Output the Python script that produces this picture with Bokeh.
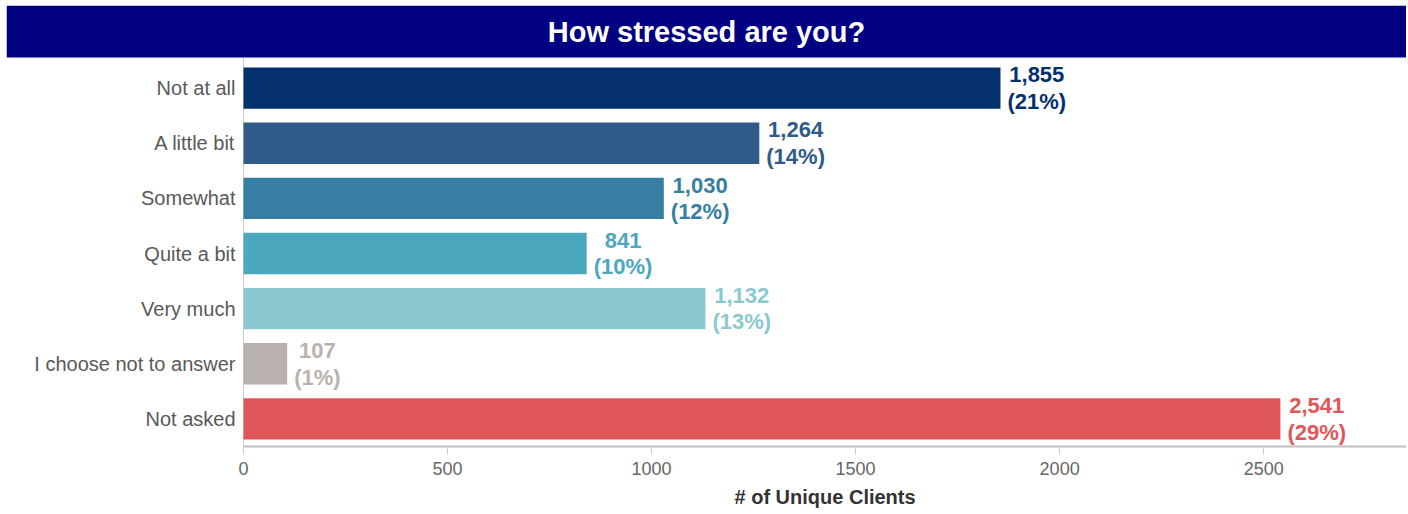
from bokeh.plotting import figure
from bokeh.models import ColumnDataSource, FixedTicker, Range1d, Span, BoxAnnotation, Title
from bokeh.core.properties import value
from bokeh.embed import file_html
from bokeh.resources import INLINE

title_text = "How stressed are you?"
categories = ["Not at all", "A little bit", "Somewhat", "Quite a bit",
              "Very much", "I choose not to answer", "Not asked"]
counts = [1855, 1264, 1030, 841, 1132, 107, 2541]
colors = ["#04306b", "#2e5b88", "#367fa3", "#4ba7bd", "#8bc8cf", "#bab2ae", "#e0575a"]
x_ticks = [0, 500, 1000, 1500, 2000, 2500]
x_max = 2850
x_label = "# of Unique Clients"

FONT = "Liberation Sans"

# ---- layout geometry (pixels) ----
W, H = 1406, 514
FRAME_L, FRAME_T = 6, 5          # title bar / frame outer edge
AXIS_X = 243                      # where value 0 sits
BARS_TOP, AXIS_Y = 60, 446        # category band top, x axis line
TITLE_BOTTOM = 57
XLABEL_LEFT = 734                 # left edge of the axis title
n = len(categories)
band = (AXIS_Y - BARS_TOP) / n
pxu = (W - AXIS_X) / x_max
x_start = -(AXIS_X - FRAME_L) / pxu
y_start = -0.5
y_end = n - 0.5 + (BARS_TOP - FRAME_T) / band
title_bottom = n - 0.5 + (BARS_TOP - TITLE_BOTTOM) / band

total = sum(counts)
pcts = [round(c * 100 / total) for c in counts]
num_labels = [f"{c:,}" for c in counts]
pct_labels = [f"({p}%)" for p in pcts]
labels = [f"{a}\n{b}" for a, b in zip(num_labels, pct_labels)]

CW = {"(": 0.333, ")": 0.333, "%": 0.889, ",": 0.278}
LABEL_PX = 22
def text_w(s):
    return sum(CW.get(ch, 0.556) for ch in s) * LABEL_PX
offsets = [7 + max(text_w(a), text_w(b)) / 2 for a, b in zip(num_labels, pct_labels)]

ypos = [n - 1 - i for i in range(n)]
src = ColumnDataSource(dict(cat=categories, y=ypos, n=counts, color=colors,
                            label=labels, off=offsets, zero=[0] * n))

p = figure(width=W, height=H, x_range=Range1d(x_start, x_max), y_range=Range1d(y_start, y_end),
           toolbar_location=None, output_backend="svg", y_axis_location=None,
           min_border_left=FRAME_L, min_border_right=0, min_border_top=FRAME_T,
           min_border_bottom=H - AXIS_Y)
p.outline_line_color = None
p.grid.visible = False
p.background_fill_color = "white"
p.border_fill_color = "white"

# y axis line and title bar
p.add_layout(Span(location=0, dimension="height", line_color="#cccccc", line_width=1,
                  level="underlay"))
p.add_layout(BoxAnnotation(bottom=title_bottom, fill_color="#000080", fill_alpha=1,
                           line_color=None, level="underlay"))
p.text(x=[x_start + (W - FRAME_L) / 2 / pxu], y=[(title_bottom + y_end) / 2], text=[title_text],
       text_align="center", text_baseline="middle", text_color="white",
       text_font=value(FONT), text_font_style="bold", text_font_size="29px")

p.hbar(y="y", right="n", left=0, height=0.75, color="color", source=src, line_color=None)
p.text(x="n", y="y", text="label", x_offset="off", source=src,
       text_align="center", text_baseline="middle", text_color="color",
       text_font=value(FONT), text_font_style="bold", text_font_size=f"{LABEL_PX}px",
       text_line_height=1.06)
# category labels
p.text(x="zero", y="y", text="cat", x_offset=-8, source=src,
       text_align="right", text_baseline="middle", text_color="#595959",
       text_font=value(FONT), text_font_size="20px")

xa = p.xaxis[0]
xa.ticker = FixedTicker(ticks=x_ticks)
xa.bounds = (0, x_max)
xa.axis_line_color = "#bfbfbf"
xa.axis_line_width = 2
xa.major_tick_line_color = "#cccccc"
xa.major_tick_out = 8
xa.major_tick_in = 0
xa.minor_tick_line_color = None
xa.major_label_text_font = FONT
xa.major_label_text_font_size = "18px"
xa.major_label_text_color = "#666666"
xa.major_label_standoff = 7

# x axis title, placed over the value axis (0 .. x_max)
p.add_layout(Title(text=x_label, align="left", offset=XLABEL_LEFT - FRAME_L,
                   text_font=FONT, text_font_size="20px", text_font_style="bold",
                   text_color="#333333", standoff=12), "below")

open("out.html", "w").write(file_html(p, INLINE))
